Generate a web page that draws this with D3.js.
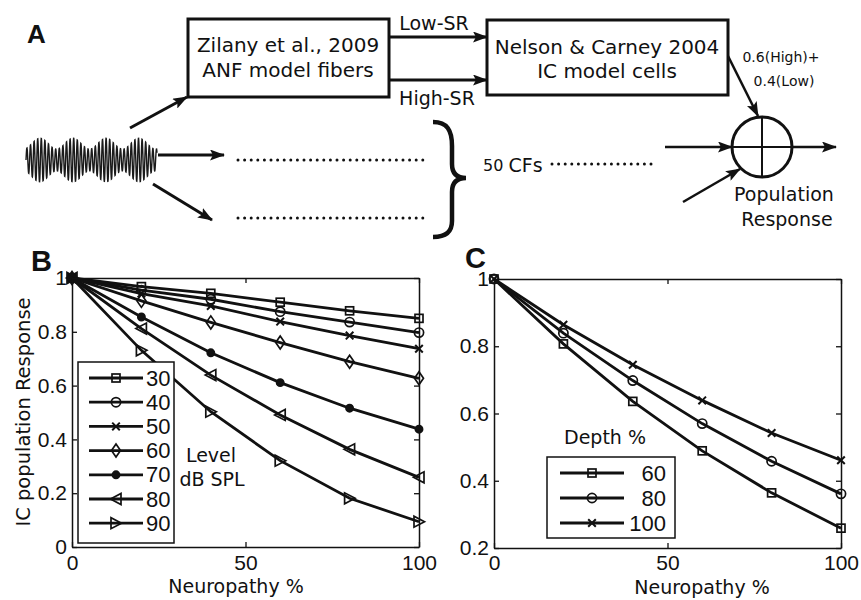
<!DOCTYPE html>
<html>
<head>
<meta charset="utf-8">
<script src="https://cdn.jsdelivr.net/npm/d3@7"></script>
<style>
  body { margin: 0; background: #fff; }
  svg { display: block; }
</style>
</head>
<body>
<svg id="fig" width="861" height="600"></svg>
<script>
// Neuropathy figure: A = model diagram, B = response vs neuropathy by level, C = by depth

// ---- data ----
const neuropathy = [0, 20, 40, 60, 80, 100];
const levelNames = ['30', '40', '50', '60', '70', '80', '90'];
const level30 = [1, 0.968, 0.943, 0.910, 0.878, 0.850];
const level40 = [1, 0.955, 0.921, 0.875, 0.836, 0.797];
const level50 = [1, 0.942, 0.896, 0.838, 0.786, 0.737];
const level60 = [1, 0.915, 0.835, 0.760, 0.689, 0.627];
const level70 = [1, 0.855, 0.722, 0.611, 0.516, 0.438];
const level80 = [1, 0.812, 0.639, 0.491, 0.363, 0.259];
const level90 = [1, 0.731, 0.503, 0.321, 0.181, 0.094];
const levelMarkers = ['square', 'circle', 'x', 'diamond', 'dot', 'triL', 'triR'];

const depthNames = ['60', '80', '100'];
const depth60 = [1, 0.807, 0.636, 0.489, 0.364, 0.259];
const depth80 = [1, 0.839, 0.698, 0.570, 0.458, 0.361];
const depth100 = [1, 0.864, 0.745, 0.639, 0.542, 0.461];
const depthMarkers = ['square', 'circle', 'x'];

const xTicks = [0, 50, 100];
const yTicksB = [0, 0.2, 0.4, 0.6, 0.8, 1];
const yTicksC = [0.2, 0.4, 0.6, 0.8, 1];

const INK = '#111';
const TICK_FONT = '"Liberation Sans", Arial, sans-serif';
const LABEL_FONT = '"DejaVu Sans", sans-serif';

const svg = d3.select('#fig');

svg.append('defs').append('marker')
    .attr('id', 'ah')
    .attr('viewBox', '0 0 15 11')
    .attr('refX', 14).attr('refY', 5.5)
    .attr('markerWidth', 15).attr('markerHeight', 11)
    .attr('markerUnits', 'userSpaceOnUse')
    .attr('orient', 'auto')
  .append('path')
    .attr('d', 'M0,0L15,5.5L0,11L3,5.5Z')
    .attr('fill', INK);

// ---- panel letters ----
[['A', 27, 43, 26], ['B', 31, 271, 29], ['C', 465, 268, 29]].forEach(([t, x, y, s]) => {
    svg.append('text').attr('x', x).attr('y', y)
        .attr('font-family', TICK_FONT).attr('font-weight', 'bold')
        .attr('font-size', s).attr('fill', INK).text(t);
});

// ---- panel A: diagram ----
const A = svg.append('g').attr('stroke', INK).attr('fill', 'none');

function box(x0, y0, x1, y1, lines, cx, ys) {
    A.append('rect').attr('x', x0).attr('y', y0)
        .attr('width', x1 - x0).attr('height', y1 - y0).attr('stroke-width', 3);
    lines.forEach((t, i) => {
        svg.append('text').attr('x', cx).attr('y', ys[i])
            .attr('text-anchor', 'middle').attr('dominant-baseline', 'central')
            .attr('font-family', LABEL_FONT).attr('font-size', 20).attr('fill', INK).text(t);
    });
}
box(188, 19, 389, 97, ['Zilany et al., 2009', 'ANF model fibers'], 288, [45, 70]);
box(487, 20, 728, 95, ['Nelson & Carney 2004', 'IC model cells'], 607, [47, 71]);

function arrow(x1, y1, x2, y2, w) {
    A.append('line').attr('x1', x1).attr('y1', y1).attr('x2', x2).attr('y2', y2)
        .attr('stroke-width', w || 3).attr('marker-end', 'url(#ah)');
}
function dots(x1, x2, y) {
    A.append('line').attr('x1', x1).attr('y1', y).attr('x2', x2).attr('y2', y)
        .attr('stroke-width', 3).attr('stroke-linecap', 'round')
        .attr('stroke-dasharray', '0 6.6');
}
function label(t, x, y, size, anchor) {
    return svg.append('text').attr('x', x).attr('y', y)
        .attr('text-anchor', anchor || 'middle').attr('dominant-baseline', 'central')
        .attr('font-family', LABEL_FONT).attr('font-size', size).attr('fill', INK).text(t);
}

arrow(389, 37, 487, 37);
arrow(389, 80, 487, 80);
label('Low-SR', 434, 23, 19);
label('High-SR', 437, 98, 19);

// waveform icon (AM tone)
const wave = d3.range(26, 157.01, 0.2).map(x => {
    const env = 16.5 + 5.5 * Math.cos(2 * Math.PI * (x - 40) / 33);
    return [x, 160 - env * Math.sin(2 * Math.PI * (x - 26) / 3.6)];
});
A.append('path').attr('d', d3.line()(wave)).attr('stroke-width', 1.4).attr('stroke', '#1a1a1a');

arrow(130, 128, 187, 97);
arrow(158, 155, 224, 155);
arrow(153, 184, 212, 220);
dots(238, 424, 160);
dots(238, 424, 218);

// brace
A.append('path')
    .attr('d', 'M433,122 C447,122 452,130 452,146 L452,164 C452,173 456,178 466,178 C456,178 452,183 452,192 L452,221 C452,231 447,237 433,237')
    .attr('stroke-width', 4.5);

const cf = svg.append('text').attr('x', 483).attr('y', 165)
    .attr('dominant-baseline', 'central').attr('font-family', LABEL_FONT).attr('fill', INK);
cf.append('tspan').attr('font-size', 16).text('50 ');
cf.append('tspan').attr('font-size', 19).text('CFs');
dots(552, 656, 164);

// summing node
A.append('circle').attr('cx', 762).attr('cy', 147).attr('r', 30).attr('stroke-width', 3);
A.append('line').attr('x1', 762).attr('y1', 117).attr('x2', 762).attr('y2', 177).attr('stroke-width', 2);
A.append('line').attr('x1', 732).attr('y1', 147).attr('x2', 792).attr('y2', 147).attr('stroke-width', 2);
arrow(728, 56, 758, 116, 2.5);
arrow(665, 147, 732, 147, 2.5);
arrow(792, 147, 836, 147, 2.5);
arrow(683, 202, 740, 169, 2.5);
label('0.6(High)+', 781, 57, 14);
label('0.4(Low)', 784, 81, 14);
label('Population', 784, 194, 19);
label('Response', 787, 219, 19);

// ---- shared plotting helpers ----
function drawMarker(g, type, cx, cy) {
    const m = g.append('g').attr('transform', `translate(${cx},${cy})`)
        .attr('stroke', INK).attr('stroke-width', 1.7).attr('fill', 'none');
    if (type === 'square') m.append('rect').attr('x', -4).attr('y', -4).attr('width', 8).attr('height', 8);
    else if (type === 'circle') m.append('circle').attr('r', 4.6);
    else if (type === 'x') m.append('path').attr('d', 'M-3.8,-3.8L3.8,3.8M-3.8,3.8L3.8,-3.8').attr('stroke-width', 2);
    else if (type === 'diamond') m.append('path').attr('d', 'M0,-6.5L4.5,0L0,6.5L-4.5,0Z');
    else if (type === 'dot') m.append('circle').attr('r', 3.6).attr('fill', INK);
    else if (type === 'triL') m.append('path').attr('d', 'M-5.5,0L5,-5.5L5,5.5Z');
    else if (type === 'triR') m.append('path').attr('d', 'M5.5,0L-5,-5.5L-5,5.5Z');
}

function drawFrame(x, y, yTicks, yFmt, xPad) {
    const [x0, x1] = x.range();
    const [y0, y1] = y.range();
    const styleAxis = g => {
        g.select('.domain').attr('stroke', INK).attr('stroke-width', 1.5);
        g.selectAll('.tick line').attr('stroke', INK).attr('stroke-width', 1.3);
        g.selectAll('text').attr('fill', INK).attr('font-family', TICK_FONT).attr('font-size', 21);
        g.attr('font-family', null).attr('font-size', null);
    };
    svg.append('g').attr('transform', `translate(0,${y0})`)
        .call(d3.axisBottom(x).tickValues(xTicks).tickSize(-5).tickSizeOuter(0).tickPadding(xPad))
        .call(styleAxis);
    svg.append('g').attr('transform', `translate(0,${y1})`)
        .call(d3.axisTop(x).tickValues(xTicks).tickSize(-5).tickSizeOuter(0).tickFormat(''))
        .call(styleAxis);
    svg.append('g').attr('transform', `translate(${x0},0)`)
        .call(d3.axisLeft(y).tickValues(yTicks).tickSize(-5).tickSizeOuter(0).tickPadding(5).tickFormat(yFmt))
        .call(styleAxis);
    svg.append('g').attr('transform', `translate(${x1},0)`)
        .call(d3.axisRight(y).tickValues(yTicks).tickSize(-5).tickSizeOuter(0).tickFormat(''))
        .call(styleAxis);
}

function drawSeries(x, y, series, markers) {
    const line = d3.line().x((d, i) => x(neuropathy[i])).y(d => y(d));
    const g = svg.append('g');
    series.forEach((vals, k) => {
        g.append('path').attr('d', line(vals))
            .attr('fill', 'none').attr('stroke', INK).attr('stroke-width', 2.8);
        vals.forEach((v, i) => drawMarker(g, markers[k], x(neuropathy[i]), y(v)));
    });
}

function drawLegend(x0, y0, x1, y1, names, markers, rows, lineX, textX, anchor) {
    svg.append('rect').attr('x', x0).attr('y', y0).attr('width', x1 - x0).attr('height', y1 - y0)
        .attr('fill', '#fff').attr('stroke', INK).attr('stroke-width', 1.5);
    const g = svg.append('g');
    names.forEach((n, i) => {
        const yy = rows(i);
        g.append('line').attr('x1', lineX[0]).attr('x2', lineX[1]).attr('y1', yy).attr('y2', yy)
            .attr('stroke', INK).attr('stroke-width', 2.8);
        drawMarker(g, markers[i], (lineX[0] + lineX[1]) / 2, yy);
        g.append('text').attr('x', textX).attr('y', yy).attr('text-anchor', anchor)
            .attr('dominant-baseline', 'central').attr('font-family', TICK_FONT)
            .attr('font-size', 22).attr('fill', INK).text(n);
    });
}

const fmt = d => d === 0 ? '0' : d === 1 ? '1' : d3.format('.1f')(d);

// ---- panel B ----
const xB = d3.scaleLinear().domain([0, 100]).range([72, 419]);
const yB = d3.scaleLinear().domain([0, 1]).range([547, 278]);
drawSeries(xB, yB, [level30, level40, level50, level60, level70, level80, level90], levelMarkers);
drawFrame(xB, yB, yTicksB, fmt, 8);
drawLegend(78, 362, 174, 543, levelNames, levelMarkers, i => 378 + i * 24.2, [89, 143], 146, 'start');
label('Level', 211, 455, 19);
label('dB SPL', 212, 479, 19);
label('Neuropathy %', 236, 586, 19);
svg.append('text').attr('transform', 'translate(23,412) rotate(-90)')
    .attr('text-anchor', 'middle').attr('dominant-baseline', 'central')
    .attr('font-family', LABEL_FONT).attr('font-size', 19.5).attr('fill', INK)
    .text('IC population Response');

// ---- panel C ----
const xC = d3.scaleLinear().domain([0, 100]).range([494, 841]);
const yC = d3.scaleLinear().domain([0.2, 1]).range([548, 279]);
drawSeries(xC, yC, [depth60, depth80, depth100], depthMarkers);
drawFrame(xC, yC, yTicksC, fmt, 7);
label('Depth %', 605, 437, 19);
drawLegend(547, 457, 675, 538, depthNames, depthMarkers, i => 473 + i * 25, [560, 624], 666, 'end');
label('Neuropathy %', 702, 587, 19);
</script>
</body>
</html>
